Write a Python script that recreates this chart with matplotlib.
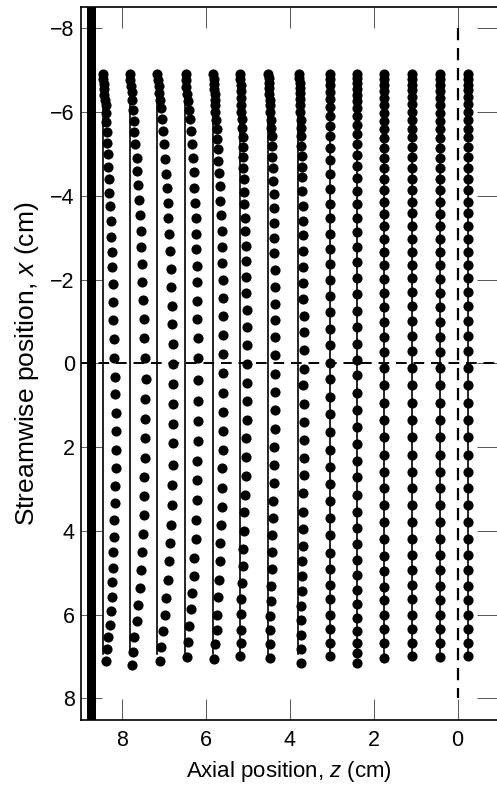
import numpy as np
import matplotlib
matplotlib.use('Agg')
import matplotlib.pyplot as plt

# starting axial position of each tracer column (cm), left to right
z_start = [8.46, 7.82, 7.17, 6.50, 5.83, 5.20, 4.52, 3.80, 3.04, 2.40, 1.75, 1.09, 0.42, -0.24]

# columns that bow away from the wall: streamwise x and axial z of every dot
x_c1 = [-6.92, -6.80, -6.68, -6.56, -6.42, -6.29, -6.16, -5.98, -5.76, -5.52, -5.27, -4.99, -4.70,
        -4.40, -4.08, -3.75, -3.39, -3.03, -2.67, -2.29, -1.90, -1.47, -1.04, -0.59, -0.13, 0.33,
        0.74, 1.18, 1.62, 2.06, 2.49, 2.92, 3.34, 3.75, 4.14, 4.51, 4.89, 5.23, 5.58, 5.92, 6.24,
        6.54, 6.83, 7.10]
z_c1 = [8.46, 8.46, 8.44, 8.44, 8.43, 8.42, 8.40, 8.40, 8.39, 8.37, 8.36, 8.35, 8.34, 8.32, 8.31,
        8.29, 8.28, 8.27, 8.25, 8.24, 8.23, 8.21, 8.21, 8.20, 8.19, 8.18, 8.17, 8.15, 8.15, 8.15,
        8.16, 8.17, 8.17, 8.19, 8.20, 8.21, 8.22, 8.24, 8.25, 8.28, 8.30, 8.33, 8.36, 8.39]

x_c2 = [-6.92, -6.76, -6.62, -6.48, -6.30, -6.06, -5.80, -5.52, -5.23, -4.91, -4.60, -4.25, -3.90,
        -3.54, -3.17, -2.77, -2.37, -1.95, -1.52, -1.06, -0.60, -0.13, 0.38, 0.86, 1.33, 1.79, 2.27,
        2.72, 3.18, 3.62, 4.07, 4.51, 4.94, 5.36, 5.78, 6.16, 6.54, 6.89, 7.21]
z_c2 = [7.82, 7.82, 7.80, 7.78, 7.77, 7.75, 7.73, 7.71, 7.69, 7.66, 7.64, 7.62, 7.59, 7.58, 7.56,
        7.55, 7.53, 7.52, 7.51, 7.49, 7.48, 7.47, 7.44, 7.45, 7.45, 7.45, 7.47, 7.48, 7.48, 7.49,
        7.51, 7.53, 7.55, 7.58, 7.63, 7.66, 7.71, 7.74, 7.78]

x_c3 = [-6.92, -6.76, -6.62, -6.46, -6.29, -6.09, -5.83, -5.55, -5.23, -4.87, -4.53, -4.18, -3.84,
        -3.48, -3.09, -2.69, -2.25, -1.82, -1.38, -0.94, -0.47, 0.02, 0.50, 0.98, 1.44, 1.91, 2.43,
        2.91, 3.38, 3.86, 4.29, 4.73, 5.17, 5.60, 6.02, 6.40, 6.77, 7.11]
z_c3 = [7.17, 7.15, 7.13, 7.12, 7.09, 7.08, 7.05, 7.03, 7.01, 6.98, 6.96, 6.94, 6.91, 6.90, 6.88,
        6.86, 6.85, 6.83, 6.82, 6.81, 6.80, 6.79, 6.79, 6.79, 6.79, 6.79, 6.80, 6.81, 6.82, 6.84,
        6.86, 6.89, 6.92, 6.95, 6.99, 7.03, 7.07, 7.11]

x_c4 = [-6.92, -6.76, -6.60, -6.44, -6.26, -6.06, -5.83, -5.55, -5.25, -4.91, -4.57, -4.20, -3.84,
        -3.48, -3.10, -2.73, -2.33, -1.94, -1.50, -1.06, -0.61, -0.13, 0.40, 0.90, 1.38, 1.86, 2.33,
        2.79, 3.26, 3.74, 4.20, 4.65, 5.09, 5.48, 5.88, 6.28, 6.66, 7.02]
z_c4 = [6.49, 6.48, 6.47, 6.45, 6.44, 6.41, 6.39, 6.36, 6.34, 6.32, 6.30, 6.29, 6.27, 6.25, 6.24,
        6.23, 6.22, 6.21, 6.21, 6.21, 6.20, 6.20, 6.20, 6.20, 6.20, 6.20, 6.21, 6.21, 6.22, 6.24,
        6.25, 6.28, 6.30, 6.33, 6.36, 6.40, 6.44, 6.46]

x_c5 = [-6.92, -6.80, -6.68, -6.56, -6.44, -6.30, -6.16, -6.00, -5.81, -5.59, -5.36, -5.11, -4.84,
        -4.55, -4.23, -3.89, -3.54, -3.17, -2.79, -2.40, -1.99, -1.56, -1.12, -0.67, -0.23, 0.23,
        0.71, 1.16, 1.61, 2.06, 2.51, 2.98, 3.42, 3.86, 4.29, 4.73, 5.17, 5.58, 6.00, 6.37, 6.71, 7.07]
z_c5 = [5.83, 5.82, 5.82, 5.81, 5.80, 5.79, 5.79, 5.78, 5.77, 5.75, 5.74, 5.72, 5.71, 5.69, 5.67,
        5.66, 5.64, 5.63, 5.62, 5.61, 5.60, 5.59, 5.59, 5.59, 5.59, 5.59, 5.59, 5.59, 5.59, 5.60,
        5.61, 5.62, 5.63, 5.64, 5.66, 5.67, 5.69, 5.71, 5.73, 5.75, 5.78, 5.82]

x_c6 = [-6.92, -6.79, -6.64, -6.50, -6.34, -6.18, -6.01, -5.83, -5.63, -5.41, -5.18, -4.94, -4.67,
        -4.40, -4.10, -3.80, -3.48, -3.15, -2.81, -2.45, -2.07, -1.68, -1.28, -0.87, -0.43, 0.01,
        0.47, 0.91, 1.36, 1.79, 2.23, 2.69, 3.14, 3.56, 4.00, 4.44, 4.83, 5.25, 5.63, 5.98, 6.36,
        6.69, 6.99]
z_c6 = [5.20, 5.19, 5.18, 5.18, 5.17, 5.17, 5.16, 5.15, 5.14, 5.13, 5.13, 5.12, 5.11, 5.10, 5.09,
        5.09, 5.08, 5.07, 5.06, 5.05, 5.05, 5.04, 5.03, 5.03, 5.02, 5.02, 5.02, 5.02, 5.03, 5.04,
        5.04, 5.05, 5.07, 5.09, 5.10, 5.12, 5.13, 5.14, 5.16, 5.17, 5.18, 5.18, 5.20]

x_c7 = [-6.92, -6.81, -6.69, -6.57, -6.44, -6.30, -6.16, -6.00, -5.82, -5.63, -5.42, -5.19, -4.94,
        -4.66, -4.36, -4.04, -3.72, -3.36, -2.99, -2.63, -2.23, -1.83, -1.42, -1.04, -0.62, -0.19,
        0.25, 0.68, 1.12, 1.56, 1.99, 2.43, 2.85, 3.28, 3.70, 4.10, 4.51, 4.91, 5.31, 5.68, 6.04,
        6.38, 6.71, 7.03]
z_c7 = [4.52, 4.51, 4.51, 4.50, 4.49, 4.48, 4.48, 4.47, 4.46, 4.45, 4.44, 4.43, 4.42, 4.41, 4.40,
        4.39, 4.38, 4.38, 4.37, 4.37, 4.36, 4.36, 4.36, 4.36, 4.36, 4.36, 4.36, 4.36, 4.36, 4.36,
        4.37, 4.38, 4.39, 4.40, 4.40, 4.42, 4.43, 4.44, 4.45, 4.46, 4.47, 4.48, 4.48, 4.48]

x_c8 = [-6.92, -6.81, -6.70, -6.58, -6.45, -6.31, -6.16, -6.00, -5.82, -5.63, -5.42, -5.19, -4.95,
        -4.70, -4.44, -4.12, -3.76, -3.40, -3.07, -2.69, -2.31, -1.91, -1.54, -1.14, -0.75, -0.31,
        0.13, 0.52, 0.96, 1.40, 1.82, 2.25, 2.67, 3.10, 3.54, 3.96, 4.37, 4.73, 5.09, 5.45, 5.80,
        6.14, 6.48, 6.83, 7.15]
z_c8 = [3.78, 3.78, 3.77, 3.77, 3.76, 3.76, 3.75, 3.75, 3.74, 3.74, 3.73, 3.73, 3.72, 3.72, 3.71,
        3.71, 3.70, 3.70, 3.69, 3.69, 3.68, 3.68, 3.68, 3.67, 3.67, 3.67, 3.67, 3.68, 3.67, 3.67,
        3.67, 3.67, 3.67, 3.68, 3.69, 3.69, 3.70, 3.71, 3.72, 3.72, 3.73, 3.73, 3.73, 3.73, 3.73]

# columns far from the wall: dots stay on their starting z, only x is listed
x_c9 = [-6.92, -6.79, -6.64, -6.48, -6.32, -6.13, -5.92, -5.68, -5.43, -5.15, -4.85, -4.52, -4.16,
        -3.80, -3.47, -3.10, -2.73, -2.37, -1.99, -1.62, -1.22, -0.83, -0.43, 0.00, 0.37, 0.80,
        1.21, 1.64, 2.06, 2.47, 2.88, 3.30, 3.70, 4.10, 4.52, 4.91, 5.29, 5.64, 6.00, 6.34, 6.67, 6.98]
x_c10 = [-6.92, -6.81, -6.69, -6.56, -6.42, -6.26, -6.09, -5.90, -5.69, -5.47, -5.23, -4.98, -4.71,
         -4.42, -4.12, -3.80, -3.47, -3.13, -2.77, -2.41, -2.04, -1.66, -1.26, -0.87, -0.47, -0.07,
         0.29, 0.71, 1.12, 1.52, 1.93, 2.33, 2.72, 3.14, 3.54, 3.94, 4.32, 4.69, 5.05, 5.41, 5.76,
         6.08, 6.40, 6.67, 6.91, 7.17]
x_c11 = [-6.92, -6.79, -6.65, -6.50, -6.34, -6.17, -5.99, -5.80, -5.60, -5.38, -5.15, -4.91, -4.66,
         -4.40, -4.13, -3.85, -3.56, -3.27, -2.97, -2.66, -2.34, -2.02, -1.68, -1.34, -0.98, -0.63,
         -0.26, 0.12, 0.52, 0.94, 1.36, 1.77, 2.19, 2.59, 2.98, 3.38, 3.79, 4.20, 4.60, 4.97, 5.35,
         5.66, 6.00, 6.34, 6.69, 7.05]
x_c12 = [-6.92, -6.79, -6.66, -6.52, -6.36, -6.19, -6.01, -5.82, -5.61, -5.40, -5.17, -4.93, -4.67,
         -4.41, -4.14, -3.86, -3.58, -3.29, -2.98, -2.67, -2.36, -2.03, -1.70, -1.36, -1.01, -0.65,
         -0.29, 0.12, 0.52, 0.94, 1.36, 1.77, 2.18, 2.59, 2.98, 3.38, 3.79, 4.20, 4.57, 4.93, 5.29,
         5.64, 6.00, 6.34, 6.67, 6.99]
x_c13 = [-6.92, -6.79, -6.65, -6.50, -6.34, -6.17, -5.99, -5.80, -5.60, -5.38, -5.15, -4.91, -4.66,
         -4.40, -4.13, -3.85, -3.56, -3.27, -2.97, -2.66, -2.34, -2.02, -1.68, -1.34, -0.98, -0.63,
         -0.26, 0.12, 0.52, 0.94, 1.36, 1.77, 2.18, 2.59, 2.98, 3.38, 3.79, 4.20, 4.57, 4.94, 5.31,
         5.66, 6.00, 6.34, 6.67, 7.02]
x_c14 = [-6.92, -6.79, -6.66, -6.52, -6.36, -6.19, -6.01, -5.82, -5.61, -5.40, -5.17, -4.93, -4.67,
         -4.41, -4.14, -3.86, -3.58, -3.29, -2.98, -2.67, -2.36, -2.03, -1.70, -1.36, -1.01, -0.65,
         -0.29, 0.10, 0.52, 0.94, 1.36, 1.77, 2.18, 2.59, 2.98, 3.38, 3.79, 4.20, 4.57, 4.94, 5.31,
         5.66, 6.00, 6.34, 6.67, 6.99]

# guide lines and wall
guide_x = [-6.92, 6.95]        # extent of the thin starting-position lines
wall_z = [8.626, 8.848]        # thick wall band
centre_z_span = [-8.0, 8.0]    # dashed line at z = 0
x_ticks = [0, 2, 4, 6, 8]
y_ticks = [-8, -6, -4, -2, 0, 2, 4, 6, 8]

plt.rcParams['font.family'] = ['Liberation Sans', 'DejaVu Sans']
plt.rcParams['mathtext.fontset'] = 'custom'
plt.rcParams['mathtext.rm'] = 'Liberation Sans'
plt.rcParams['mathtext.it'] = 'Liberation Sans:italic'

fig = plt.figure(figsize=(4.97, 7.87), dpi=100)
ax = fig.add_axes([81 / 497, 67 / 787, 416.5 / 497, 713.3 / 787])

bowed = [(x_c1, z_c1), (x_c2, z_c2), (x_c3, z_c3), (x_c4, z_c4),
         (x_c5, z_c5), (x_c6, z_c6), (x_c7, z_c7), (x_c8, z_c8)]
straight = [x_c9, x_c10, x_c11, x_c12, x_c13, x_c14]

for z0 in z_start:
    ax.plot([z0, z0], guide_x, color='k', lw=1.2, zorder=2)

for xs, zs in bowed:
    ax.plot(zs, xs, 'o', color='k', ms=7.3, mew=0, zorder=3)
for z0, xs in zip(z_start[len(bowed):], straight):
    ax.plot(np.full(len(xs), z0), xs, 'o', color='k', ms=7.3, mew=0, zorder=3)

ax.axvspan(wall_z[0], wall_z[1], color='k', lw=0, zorder=4)
ax.axhline(0, color='k', lw=1.4, ls=(0, (5.5, 3.5)), zorder=4)
ax.plot([0, 0], centre_z_span, color='k', lw=1.6, ls=(0, (5.5, 3.5)), zorder=4)

ax.set_xlim(8.985, -0.95)
ax.set_ylim(8.52, -8.52)
ax.set_xticks(x_ticks)
ax.set_yticks(y_ticks)
ax.tick_params(direction='in', length=15, width=0.7, top=True, right=True,
               labelsize=15.5, color='#555555')
ax.tick_params(axis='x', pad=7)
ax.tick_params(axis='y', pad=4.5)
for sp in ax.spines.values():
    sp.set_linewidth(1.2)

ax.set_xlabel('Axial position, $z$ (cm)', fontsize=16, labelpad=6)
ax.set_ylabel('Streamwise position, $x$ (cm)', fontsize=19, labelpad=7)

fig.savefig('out.png', dpi=100)
